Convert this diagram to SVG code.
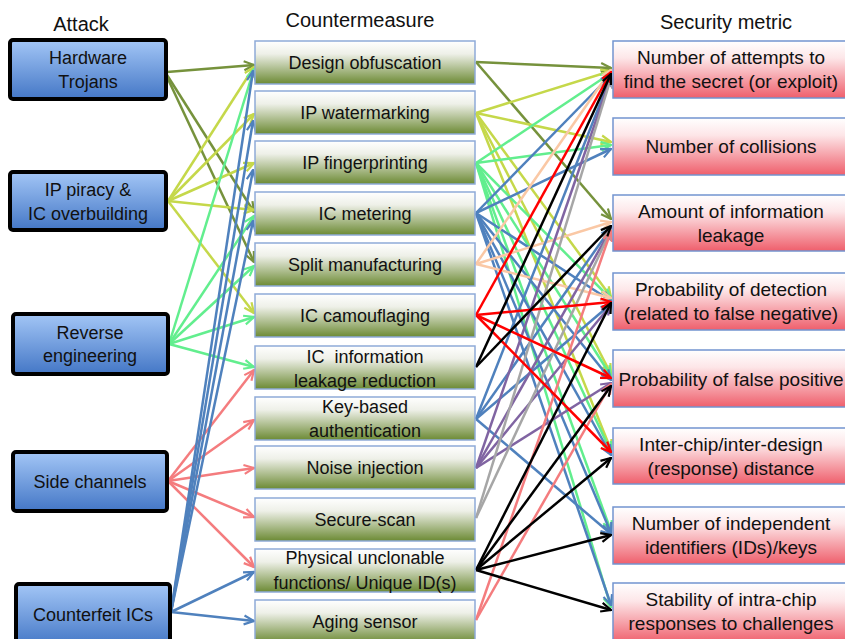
<svg xmlns="http://www.w3.org/2000/svg" width="845" height="639" viewBox="0 0 845 639">
<style>
text{font-family:"Liberation Sans",Arial,sans-serif;fill:#111;text-anchor:middle}
.t{font-size:20px}
.l{font-size:18px}
.m{font-size:18px}
.r{font-size:19px}
.att{fill:url(#gb);stroke:#000;stroke-width:4}
.cm{fill:url(#gg);stroke:#8eaad8;stroke-width:1.5}
.sm{fill:url(#gr);stroke:#7394cf;stroke-width:1.5}
#conn line{stroke-width:2.5;fill:none}
.olive{stroke:#76923c;marker-end:url(#a-olive)}
.yg{stroke:#c5d84a;marker-end:url(#a-yg)}
.mint{stroke:#62ee8e;marker-end:url(#a-mint)}
.sal{stroke:#f47c7e;marker-end:url(#a-sal)}
.blue{stroke:#4f81bd;marker-end:url(#a-blue)}
.peach{stroke:#fac8a5;marker-end:url(#a-peach)}
.red{stroke:#ff0000;marker-end:url(#a-red)}
.blk{stroke:#000;marker-end:url(#a-blk)}
.pur{stroke:#8064a2;marker-end:url(#a-pur)}
.gray{stroke:#a6a6a6;marker-end:url(#a-gray)}
</style>
<defs>
<linearGradient id="gb" x1="0" y1="0" x2="0" y2="1"><stop offset="0" stop-color="#a3c6f6"/><stop offset="1" stop-color="#4477c6"/></linearGradient>
<linearGradient id="gg" x1="0" y1="0" x2="0" y2="1"><stop offset="0" stop-color="#ffffff"/><stop offset="0.3" stop-color="#eef0e8"/><stop offset="1" stop-color="#6c8a34"/></linearGradient>
<linearGradient id="gr" x1="0" y1="0" x2="0" y2="1"><stop offset="0" stop-color="#ffffff"/><stop offset="0.3" stop-color="#fde6e8"/><stop offset="1" stop-color="#ef5f6c"/></linearGradient>
<marker id="a-olive" markerUnits="userSpaceOnUse" markerWidth="12" markerHeight="12" viewBox="0 0 12 12" refX="11" refY="6" orient="auto"><path d="M1,1.5 L11,6 L1,10.5" fill="none" stroke="#76923c" stroke-width="2.2"/></marker>
<marker id="a-yg" markerUnits="userSpaceOnUse" markerWidth="12" markerHeight="12" viewBox="0 0 12 12" refX="11" refY="6" orient="auto"><path d="M1,1.5 L11,6 L1,10.5" fill="none" stroke="#c5d84a" stroke-width="2.2"/></marker>
<marker id="a-mint" markerUnits="userSpaceOnUse" markerWidth="12" markerHeight="12" viewBox="0 0 12 12" refX="11" refY="6" orient="auto"><path d="M1,1.5 L11,6 L1,10.5" fill="none" stroke="#62ee8e" stroke-width="2.2"/></marker>
<marker id="a-sal" markerUnits="userSpaceOnUse" markerWidth="12" markerHeight="12" viewBox="0 0 12 12" refX="11" refY="6" orient="auto"><path d="M1,1.5 L11,6 L1,10.5" fill="none" stroke="#f47c7e" stroke-width="2.2"/></marker>
<marker id="a-blue" markerUnits="userSpaceOnUse" markerWidth="12" markerHeight="12" viewBox="0 0 12 12" refX="11" refY="6" orient="auto"><path d="M1,1.5 L11,6 L1,10.5" fill="none" stroke="#4f81bd" stroke-width="2.2"/></marker>
<marker id="a-peach" markerUnits="userSpaceOnUse" markerWidth="12" markerHeight="12" viewBox="0 0 12 12" refX="11" refY="6" orient="auto"><path d="M1,1.5 L11,6 L1,10.5" fill="none" stroke="#fac8a5" stroke-width="2.2"/></marker>
<marker id="a-red" markerUnits="userSpaceOnUse" markerWidth="12" markerHeight="12" viewBox="0 0 12 12" refX="11" refY="6" orient="auto"><path d="M1,1.5 L11,6 L1,10.5" fill="none" stroke="#ff0000" stroke-width="2.2"/></marker>
<marker id="a-blk" markerUnits="userSpaceOnUse" markerWidth="12" markerHeight="12" viewBox="0 0 12 12" refX="11" refY="6" orient="auto"><path d="M1,1.5 L11,6 L1,10.5" fill="none" stroke="#000" stroke-width="2.2"/></marker>
<marker id="a-pur" markerUnits="userSpaceOnUse" markerWidth="12" markerHeight="12" viewBox="0 0 12 12" refX="11" refY="6" orient="auto"><path d="M1,1.5 L11,6 L1,10.5" fill="none" stroke="#8064a2" stroke-width="2.2"/></marker>
<marker id="a-gray" markerUnits="userSpaceOnUse" markerWidth="12" markerHeight="12" viewBox="0 0 12 12" refX="11" refY="6" orient="auto"><path d="M1,1.5 L11,6 L1,10.5" fill="none" stroke="#a6a6a6" stroke-width="2.2"/></marker>
</defs>
<rect width="845" height="639" fill="#fff"/>

<text class="t" x="81" y="31">Attack</text>
<text class="t" x="360" y="27">Countermeasure</text>
<text class="t" x="726" y="29">Security metric</text>

<g id="conn">
<!-- attack -> countermeasure -->
<line class="olive" x1="167" y1="72" x2="254" y2="65"/>
<line class="olive" x1="167" y1="75" x2="254" y2="212"/>
<line class="olive" x1="167" y1="77" x2="254" y2="262"/>
<line class="yg" x1="168" y1="201" x2="254" y2="67"/>
<line class="yg" x1="168" y1="201" x2="254" y2="114"/>
<line class="yg" x1="168" y1="201" x2="254" y2="163"/>
<line class="yg" x1="168" y1="201" x2="254" y2="210"/>
<line class="yg" x1="168" y1="201" x2="254" y2="313"/>
<line class="mint" x1="169" y1="344" x2="254" y2="69"/>
<line class="mint" x1="169" y1="344" x2="254" y2="216"/>
<line class="mint" x1="169" y1="344" x2="254" y2="266"/>
<line class="mint" x1="169" y1="344" x2="254" y2="317"/>
<line class="mint" x1="169" y1="344" x2="254" y2="367"/>
<line class="sal" x1="168" y1="481" x2="254" y2="370"/>
<line class="sal" x1="168" y1="481" x2="254" y2="420"/>
<line class="sal" x1="168" y1="481" x2="254" y2="468"/>
<line class="sal" x1="168" y1="481" x2="254" y2="517"/>
<line class="sal" x1="168" y1="481" x2="254" y2="567"/>
<line class="blue" x1="171" y1="612" x2="253" y2="71"/>
<line class="blue" x1="171" y1="612" x2="253" y2="121"/>
<line class="blue" x1="171" y1="612" x2="253" y2="170"/>
<line class="blue" x1="171" y1="612" x2="253" y2="221"/>
<line class="blue" x1="171" y1="612" x2="254" y2="572"/>
<line class="blue" x1="171" y1="612" x2="254" y2="621"/>
<!-- countermeasure -> metric -->
<line class="olive" x1="476" y1="62" x2="611" y2="68"/>
<line class="olive" x1="476" y1="62" x2="611" y2="219"/>
<line class="yg" x1="476" y1="113" x2="611" y2="71"/>
<line class="yg" x1="476" y1="113" x2="611" y2="142"/>
<line class="yg" x1="476" y1="113" x2="611" y2="297"/>
<line class="yg" x1="476" y1="113" x2="611" y2="374"/>
<line class="yg" x1="476" y1="113" x2="611" y2="450"/>
<line class="mint" x1="476" y1="163" x2="611" y2="73"/>
<line class="mint" x1="476" y1="163" x2="611" y2="145"/>
<line class="mint" x1="476" y1="163" x2="611" y2="299"/>
<line class="mint" x1="476" y1="163" x2="611" y2="376"/>
<line class="mint" x1="476" y1="163" x2="611" y2="452"/>
<line class="mint" x1="476" y1="163" x2="611" y2="531"/>
<line class="mint" x1="476" y1="163" x2="611" y2="607"/>
<line class="blue" x1="476" y1="213" x2="611" y2="75"/>
<line class="blue" x1="476" y1="213" x2="611" y2="149"/>
<line class="blue" x1="476" y1="213" x2="611" y2="301"/>
<line class="blue" x1="476" y1="213" x2="611" y2="380"/>
<line class="blue" x1="476" y1="213" x2="611" y2="455"/>
<line class="blue" x1="476" y1="213" x2="611" y2="533"/>
<line class="blue" x1="476" y1="213" x2="611" y2="605"/>
<line class="peach" x1="476" y1="264" x2="611" y2="70"/>
<line class="peach" x1="476" y1="264" x2="611" y2="222"/>
<line class="peach" x1="476" y1="264" x2="611" y2="298"/>
<line class="blue" x1="476" y1="419" x2="611" y2="76"/>
<line class="blue" x1="476" y1="419" x2="611" y2="228"/>
<line class="blue" x1="476" y1="419" x2="611" y2="304"/>
<line class="blue" x1="476" y1="419" x2="611" y2="534"/>
<line class="pur" x1="476" y1="468" x2="611" y2="77"/>
<line class="pur" x1="476" y1="468" x2="611" y2="229"/>
<line class="pur" x1="476" y1="468" x2="611" y2="305"/>
<line class="pur" x1="476" y1="468" x2="611" y2="383"/>
<line class="gray" x1="476" y1="518" x2="611" y2="78"/>
<line class="gray" x1="476" y1="518" x2="611" y2="230"/>
<line class="sal" x1="476" y1="620" x2="611" y2="231"/>
<line class="sal" x1="476" y1="620" x2="611" y2="384"/>
<line class="red" x1="476" y1="315" x2="611" y2="72"/>
<line class="red" x1="476" y1="315" x2="611" y2="302"/>
<line class="red" x1="476" y1="315" x2="611" y2="378"/>
<line class="red" x1="476" y1="315" x2="611" y2="452"/>
<line class="blk" x1="476" y1="367" x2="611" y2="74"/>
<line class="blk" x1="476" y1="367" x2="611" y2="226"/>
<line class="blk" x1="476" y1="570" x2="611" y2="303"/>
<line class="blk" x1="476" y1="570" x2="611" y2="386"/>
<line class="blk" x1="476" y1="570" x2="611" y2="458"/>
<line class="blk" x1="476" y1="570" x2="611" y2="535"/>
<line class="blk" x1="476" y1="570" x2="611" y2="610"/>
</g>

<!-- attacks -->
<g id="a-ht"><rect class="att" x="10" y="40" width="156" height="59" rx="3"/><text class="l" x="88" y="64">Hardware</text><text class="l" x="88" y="88">Trojans</text></g>
<g id="a-ipp"><rect class="att" x="10" y="172" width="156" height="58" rx="3"/><text class="l" x="88" y="196">IP piracy &amp;</text><text class="l" x="88" y="220">IC overbuilding</text></g>
<g id="a-re"><rect class="att" x="13" y="314" width="155" height="60" rx="3"/><text class="l" x="90" y="339">Reverse</text><text class="l" x="90" y="362">engineering</text></g>
<g id="a-sc"><rect class="att" x="13" y="452" width="154" height="59" rx="3"/><text class="l" x="90" y="488">Side channels</text></g>
<g id="a-cf"><rect class="att" x="16" y="584" width="154" height="62" rx="3"/><text class="l" x="93" y="621">Counterfeit ICs</text></g>

<!-- countermeasures -->
<g id="c-do"><rect class="cm" x="255" y="41" width="220" height="43"/><text class="m" x="365" y="69">Design obfuscation</text></g>
<g id="c-ipw"><rect class="cm" x="255" y="91" width="220" height="43"/><text class="m" x="365" y="119">IP watermarking</text></g>
<g id="c-ipf"><rect class="cm" x="255" y="141" width="220" height="43"/><text class="m" x="365" y="169">IP fingerprinting</text></g>
<g id="c-icm"><rect class="cm" x="255" y="192" width="220" height="43"/><text class="m" x="365" y="220">IC metering</text></g>
<g id="c-sm"><rect class="cm" x="255" y="243" width="220" height="43"/><text class="m" x="365" y="271">Split manufacturing</text></g>
<g id="c-icc"><rect class="cm" x="255" y="294" width="220" height="43"/><text class="m" x="365" y="322">IC camouflaging</text></g>
<g id="c-icl"><rect class="cm" x="255" y="346" width="220" height="43"/><text class="m" x="365" y="363" style="white-space:pre">IC  information</text><text class="m" x="365" y="387">leakage reduction</text></g>
<g id="c-kba"><rect class="cm" x="255" y="397" width="220" height="43"/><text class="m" x="365" y="413">Key-based</text><text class="m" x="365" y="437">authentication</text></g>
<g id="c-ni"><rect class="cm" x="255" y="446" width="220" height="43"/><text class="m" x="365" y="474">Noise injection</text></g>
<g id="c-ss"><rect class="cm" x="255" y="498" width="220" height="43"/><text class="m" x="365" y="526">Secure-scan</text></g>
<g id="c-puf"><rect class="cm" x="255" y="549" width="220" height="43"/><text class="m" x="365" y="564">Physical unclonable</text><text class="m" x="365" y="589">functions/ Unique ID(s)</text></g>
<g id="c-as"><rect class="cm" x="255" y="600" width="220" height="43"/><text class="m" x="365" y="628">Aging sensor</text></g>

<!-- metrics -->
<g id="m-att"><rect class="sm" x="613" y="41" width="240" height="57"/><text class="r" x="731" y="64">Number of attempts to</text><text class="r" x="731" y="88">find the secret (or exploit)</text></g>
<g id="m-col"><rect class="sm" x="613" y="118" width="240" height="57"/><text class="r" x="731" y="153">Number of collisions</text></g>
<g id="m-leak"><rect class="sm" x="613" y="195" width="240" height="56"/><text class="r" x="731" y="218">Amount of information</text><text class="r" x="731" y="242">leakage</text></g>
<g id="m-det"><rect class="sm" x="613" y="273" width="240" height="57"/><text class="r" x="731" y="296">Probability of detection</text><text class="r" x="731" y="320">(related to false negative)</text></g>
<g id="m-fp"><rect class="sm" x="613" y="350" width="240" height="57"/><text class="r" x="731" y="386">Probability of false positive</text></g>
<g id="m-dist"><rect class="sm" x="613" y="428" width="240" height="56"/><text class="r" x="731" y="451">Inter-chip/inter-design</text><text class="r" x="731" y="475">(response) distance</text></g>
<g id="m-ids"><rect class="sm" x="613" y="507" width="240" height="57"/><text class="r" x="731" y="530">Number of independent</text><text class="r" x="731" y="554">identifiers (IDs)/keys</text></g>
<g id="m-stab"><rect class="sm" x="613" y="583" width="240" height="60"/><text class="r" x="731" y="606">Stability of intra-chip</text><text class="r" x="731" y="630">responses to challenges</text></g>
</svg>
